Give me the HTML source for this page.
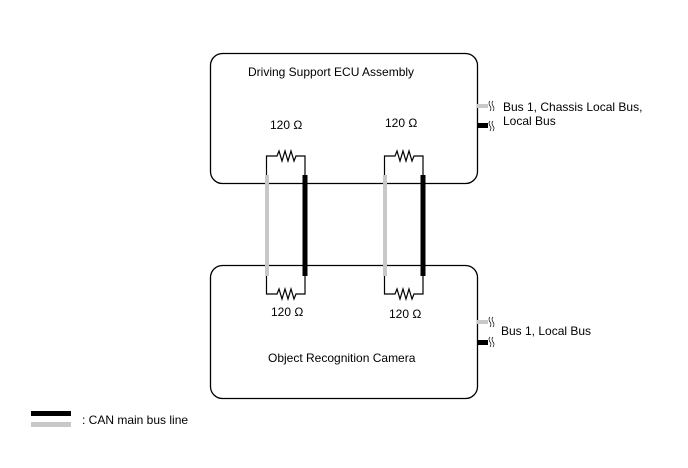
<!DOCTYPE html>
<html><head><style>body{margin:0;background:#fff}</style></head><body>
<svg width="688" height="463" xmlns="http://www.w3.org/2000/svg" font-family="Liberation Sans, Arial, sans-serif" font-size="12" fill="#000">
<rect x="210.5" y="53.5" width="267" height="130" rx="12" fill="none" stroke="#000" stroke-width="1.3"/>
<rect x="210.5" y="265.5" width="267" height="133" rx="12" fill="none" stroke="#000" stroke-width="1.3"/>
<text x="248" y="76">Driving Support ECU Assembly</text>
<text x="268" y="362">Object Recognition Camera</text>
<g fill="none" stroke="#000" stroke-width="1.2">
<path d="M266.5 176 V156 H277 l2 -5 l3 10 l3 -10 l3 10 l3 -10 l3 10 l2 -5 H305 V176"/>
<path d="M384.5 176 V156 H395 l2 -5 l3 10 l3 -10 l3 10 l3 -10 l3 10 l2 -5 H423 V176"/>
<path d="M266.5 276 V294 H277 l2 -5 l3 10 l3 -10 l3 10 l3 -10 l3 10 l2 -5 H305 V276"/>
<path d="M384.5 276 V294 H395 l2 -5 l3 10 l3 -10 l3 10 l3 -10 l3 10 l2 -5 H423 V276"/>
</g>
<rect x="265" y="175" width="4" height="101" fill="#c8c8c8"/>
<rect x="383" y="175" width="4" height="101" fill="#c8c8c8"/>
<rect x="302.5" y="175" width="5" height="101" fill="#000"/>
<rect x="420.5" y="175" width="5" height="101" fill="#000"/>
<text x="270" y="129">120 Ω</text>
<text x="385" y="127">120 Ω</text>
<text x="271" y="316">120 Ω</text>
<text x="389" y="318">120 Ω</text>
<rect x="477" y="104" width="11" height="4" fill="#c8c8c8"/>
<rect x="477" y="123" width="11" height="5" fill="#000"/>
<rect x="477" y="320" width="11" height="4" fill="#c8c8c8"/>
<rect x="477" y="340" width="11" height="5" fill="#000"/>
<g fill="none" stroke="#000" stroke-width="0.7">
<path d="M490 101 q-2 2 0 5 q2 2 0 5 M493 101 q-2 2 0 5 q2 2 0 5"/>
<path d="M490 121 q-2 2 0 5 q2 2 0 5 M493 121 q-2 2 0 5 q2 2 0 5"/>
<path d="M490 317 q-2 2 0 5 q2 2 0 5 M493 317 q-2 2 0 5 q2 2 0 5"/>
<path d="M490 337 q-2 2 0 5 q2 2 0 5 M493 337 q-2 2 0 5 q2 2 0 5"/>
</g>
<text x="503" y="111">Bus 1, Chassis Local Bus,</text>
<text x="503" y="125">Local Bus</text>
<text x="501" y="335">Bus 1, Local Bus</text>
<rect x="31" y="411" width="40" height="5" fill="#000"/>
<rect x="31" y="422" width="40" height="5" fill="#c8c8c8"/>
<text x="82" y="424">: CAN main bus line</text>
</svg>
</body></html>
